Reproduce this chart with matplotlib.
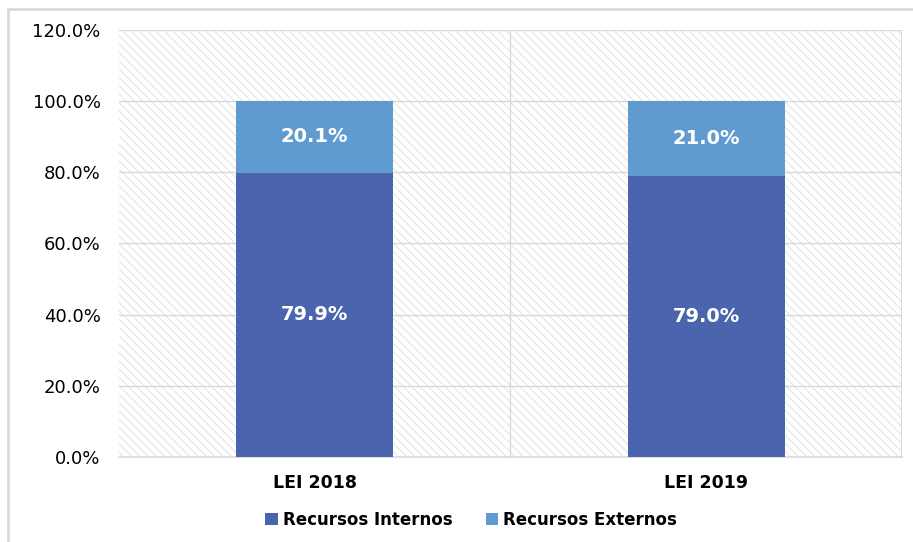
import numpy as np
import matplotlib.pyplot as plt
from matplotlib.patches import Rectangle
from matplotlib.lines import Line2D

categories = ["LEI 2018", "LEI 2019"]
internos = [79.9, 79.0]
externos = [20.1, 21.0]
series_names = ["Recursos Internos", "Recursos Externos"]
colors = ["#4A65AE", "#5F9BD0"]

plt.rcParams['font.family'] = ['DejaVu Sans']
plt.rcParams['hatch.linewidth'] = 0.5
plt.rcParams['hatch.color'] = '#d6d6d6'

fig = plt.figure(figsize=(9.13, 5.42), dpi=100)
ax = fig.add_axes([0.130, 0.157, 0.858, 0.788])

# schraffierter Hintergrund
ax.add_patch(Rectangle((0, 0), 1, 1, transform=ax.transAxes, facecolor='white',
                       hatch='\\\\\\\\', edgecolor='#d6d6d6', linewidth=0, zorder=0))

x = np.arange(len(categories))
ax.bar(x, internos, width=0.4, color=colors[0], label=series_names[0], zorder=3)
ax.bar(x, externos, width=0.4, bottom=internos, color=colors[1], label=series_names[1], zorder=3)

for i in range(len(categories)):
    ax.text(x[i], internos[i] / 2, f"{internos[i]:.1f}%", ha='center', va='center',
            color='white', fontsize=14, fontweight='bold', zorder=4)
    ax.text(x[i], internos[i] + externos[i] / 2, f"{externos[i]:.1f}%", ha='center', va='center',
            color='white', fontsize=14, fontweight='bold', zorder=4)

ax.set_xlim(-0.5, 1.5)
ax.set_ylim(0, 120)
ax.set_yticks(np.arange(0, 121, 20))
ax.set_yticklabels([f"{v:.1f}%" for v in np.arange(0, 121, 20)], fontsize=13)
ax.set_xticks(x)
ax.set_xticklabels(categories, fontsize=12.5, fontweight='bold')
ax.tick_params(length=0, pad=12)
ax.tick_params(axis='y', pad=13)

for v in np.arange(20, 121, 20):
    ax.axhline(v, color='#d9d9d9', linewidth=1, zorder=1)
ax.axvline(0.5, color='#d9d9d9', linewidth=1, zorder=1)
ax.axvline(1.5, color='#d9d9d9', linewidth=1.5, zorder=1)

for s in ['top', 'left', 'right']:
    ax.spines[s].set_visible(False)
ax.spines['bottom'].set_color('#d9d9d9')
ax.spines['bottom'].set_linewidth(1.2)

fig.legend(*ax.get_legend_handles_labels(), loc='center', bbox_to_anchor=(471 / 913, 1 - 520 / 542),
           ncol=2, frameon=False, handlelength=0.75, handleheight=0.75, handletextpad=0.3,
           columnspacing=2.0, prop={'size': 12, 'weight': 'bold'})

# Rahmen um das Diagramm
fig.add_artist(Line2D([8 / 913, 8 / 913], [0, 1 - 9 / 542], color='#d9d9d9', linewidth=2))
fig.add_artist(Line2D([8 / 913, 1], [1 - 9 / 542, 1 - 9 / 542], color='#d9d9d9', linewidth=2))

plt.savefig('out.png', dpi=100)
